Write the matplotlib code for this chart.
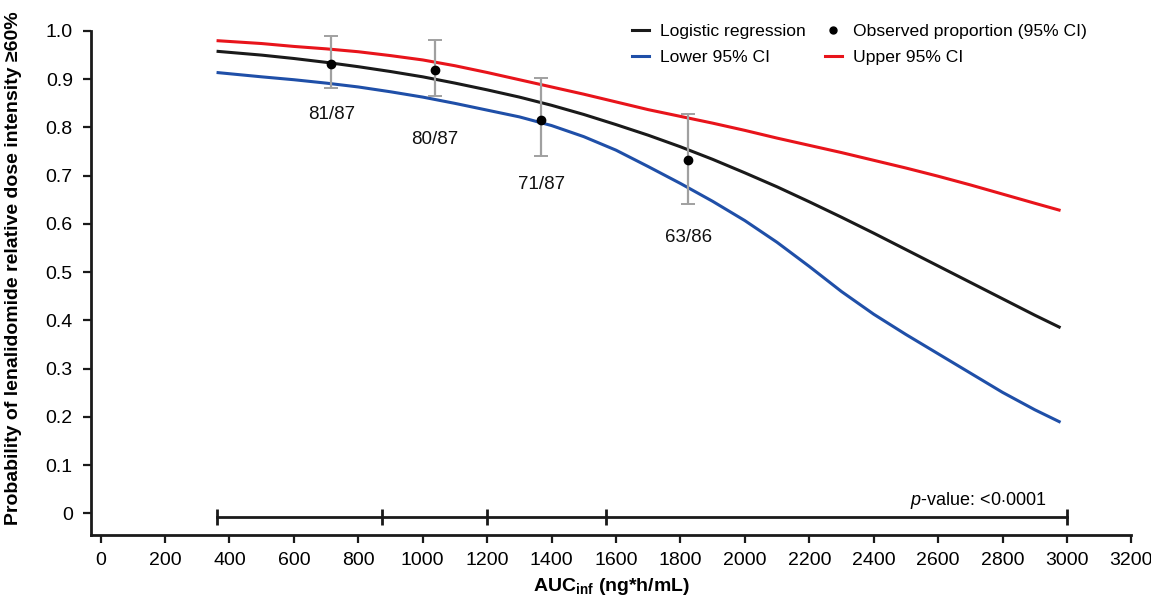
import matplotlib

matplotlib.use("Agg")
import matplotlib.pyplot as plt
import numpy as np
from matplotlib.lines import Line2D

plt.rcParams["font.family"] = ["Liberation Sans", "DejaVu Sans"]
plt.rcParams["mathtext.fontset"] = "custom"
plt.rcParams["mathtext.rm"] = "Liberation Sans"
plt.rcParams["mathtext.it"] = "Liberation Sans:italic"
plt.rcParams["mathtext.bf"] = "Liberation Sans:bold"

auc = [360, 500, 600, 700, 800, 900, 1000, 1100, 1200, 1300, 1400, 1500, 1600, 1700,
       1800, 1900, 2000, 2100, 2200, 2300, 2400, 2500, 2600, 2700, 2800, 2900, 2980]
logistic = [0.958, 0.950, 0.943, 0.935, 0.926, 0.916, 0.905, 0.892, 0.878, 0.863,
            0.846, 0.827, 0.806, 0.784, 0.760, 0.734, 0.706, 0.677, 0.646, 0.614,
            0.581, 0.547, 0.513, 0.479, 0.445, 0.411, 0.385]
lower_ci = [0.914, 0.905, 0.899, 0.892, 0.884, 0.874, 0.863, 0.850, 0.836, 0.822,
            0.804, 0.781, 0.753, 0.719, 0.684, 0.647, 0.607, 0.562, 0.512, 0.460,
            0.413, 0.371, 0.331, 0.291, 0.251, 0.215, 0.189]
upper_ci = [0.980, 0.974, 0.968, 0.963, 0.957, 0.949, 0.940, 0.928, 0.914, 0.899,
            0.884, 0.869, 0.853, 0.837, 0.823, 0.809, 0.794, 0.778, 0.763, 0.748,
            0.732, 0.716, 0.699, 0.681, 0.662, 0.643, 0.628]

# observed proportions per AUC quartile
obs_auc = [716, 1037, 1368, 1825]
obs_n = [81, 80, 71, 63]
obs_total = [87, 87, 87, 86]
obs_lo = [0.882, 0.865, 0.740, 0.642]
obs_hi = [0.989, 0.982, 0.902, 0.828]

# quartile boundaries shown on the bottom range bar
quartile_edges = [360, 873, 1201, 1569, 3000]

# layout: vertical offset (points) of the n/N labels below each CI
label_offsets = [-19, -31, -20, -24]

obs_p = np.array(obs_n) / np.array(obs_total)

fig = plt.figure(figsize=(11.51, 5.96), dpi=100)
ax = fig.add_axes([0.079, 0.102, 0.904, 0.846])

ax.plot(auc, logistic, color="#1a1a1a", lw=2.2, solid_capstyle="butt")
ax.plot(auc, lower_ci, color="#1f4fa8", lw=2.2, solid_capstyle="butt")
ax.plot(auc, upper_ci, color="#e8141b", lw=2.2, solid_capstyle="butt")

yerr = [obs_p - np.array(obs_lo), np.array(obs_hi) - obs_p]
ax.errorbar(obs_auc, obs_p, yerr=yerr, fmt="none", ecolor="#a0a0a0",
            elinewidth=1.6, capsize=5, capthick=1.4, zorder=3)
ax.plot(obs_auc, obs_p, "o", color="black", ms=6, zorder=4)

for x, lo, n, tot, off in zip(obs_auc, obs_lo, obs_n, obs_total, label_offsets):
    ax.annotate(f"{n}/{tot}", (x, lo), xytext=(0, off), textcoords="offset points",
                ha="center", va="center", fontsize=13.5, color="#111111")

# range bar with quartile ticks
ax.plot([quartile_edges[0], quartile_edges[-1]], [-0.008, -0.008], color="#1a1a1a",
        lw=2, zorder=2)
ax.plot(quartile_edges, [-0.008] * len(quartile_edges), ls="none", marker="|",
        color="#1a1a1a", ms=12, mew=2, zorder=2)
ax.text(2935, 0.027, r"$\it{p}$-value: <0$\cdot$0001", ha="right", va="center",
        fontsize=13)

ax.set_xlim(-30, 3200)
ax.set_ylim(-0.045, 1.0)
ax.set_xticks(np.arange(0, 3201, 200))
ax.set_yticks(np.arange(0, 1.01, 0.1))
ax.set_yticklabels(["0"] + [f"{v:.1f}" for v in np.arange(0.1, 1.01, 0.1)])
ax.tick_params(axis="both", labelsize=14, width=1.6, length=6, direction="out",
               color="#1a1a1a")
ax.tick_params(axis="y", pad=7)
ax.tick_params(axis="x", pad=6)
for side in ("top", "right"):
    ax.spines[side].set_visible(False)
for side in ("left", "bottom"):
    ax.spines[side].set_linewidth(2)
    ax.spines[side].set_color("#1a1a1a")

ax.set_xlabel(r"AUC$_{\mathbf{inf}}$ (ng*h/mL)", fontsize=14, fontweight="bold",
              labelpad=5)
ax.set_ylabel("Probability of lenalidomide relative dose intensity ≥60%", fontsize=14,
              fontweight="bold")
ax.yaxis.set_label_coords(-0.066, 0.53)

handles = [
    Line2D([], [], color="#1a1a1a", lw=2.2),
    Line2D([], [], color="#1f4fa8", lw=2.2),
    Line2D([], [], ls="none", marker="o", color="black", ms=5),
    Line2D([], [], color="#e8141b", lw=2.2),
]
labels = ["Logistic regression", "Lower 95% CI", "Observed proportion (95% CI)",
          "Upper 95% CI"]
ax.legend(handles, labels, ncol=2, loc="upper right", bbox_to_anchor=(0.972, 1.045),
          frameon=False, fontsize=12.6, handlelength=1.0, handletextpad=0.6,
          columnspacing=1.1, labelspacing=0.6)

fig.savefig("out.png", dpi=100)
